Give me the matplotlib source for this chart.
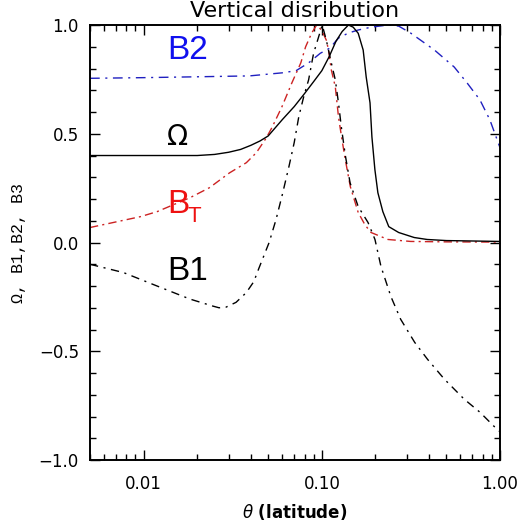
import matplotlib
matplotlib.use("Agg")
import matplotlib.pyplot as plt
from matplotlib.ticker import LogLocator, MultipleLocator, FixedLocator, FixedFormatter, NullFormatter

# --- data -------------------------------------------------------------
omega_theta = [0.005, 0.010, 0.020, 0.025, 0.030, 0.035, 0.040, 0.045, 0.050,
               0.060, 0.070, 0.080, 0.090, 0.100, 0.110, 0.120, 0.130, 0.141,
               0.150, 0.160, 0.1706, 0.1774, 0.1864, 0.191, 0.1985, 0.2063, 0.220,
               0.2375, 0.270, 0.330, 0.390, 0.500, 1.0]
omega_val = [0.40, 0.40, 0.40, 0.405, 0.415, 0.428, 0.447, 0.467, 0.49,
             0.565, 0.625, 0.685, 0.74, 0.79, 0.855, 0.925, 0.97, 1.0,
             0.99, 0.962, 0.885, 0.761, 0.642, 0.486, 0.335, 0.229, 0.142,
             0.073, 0.046, 0.023, 0.014, 0.009, 0.005]

b2_theta = [0.005, 0.010, 0.020, 0.0392, 0.0597, 0.0717, 0.0843, 0.098, 0.111,
            0.124, 0.1408, 0.16, 0.189, 0.235, 0.27, 0.315, 0.4285, 0.553,
            0.653, 0.771, 0.877, 1.0]
b2_val = [0.755, 0.758, 0.762, 0.766, 0.78, 0.79, 0.826, 0.87, 0.894,
          0.94, 0.963, 0.977, 0.99, 1.0, 0.995, 0.963, 0.885, 0.807,
          0.734, 0.656, 0.564, 0.436]

bt_theta = [0.005, 0.0096, 0.0119, 0.0182, 0.0234, 0.0303, 0.0377, 0.0429, 0.0487,
            0.0526, 0.0597, 0.0679, 0.0762, 0.0811, 0.0877, 0.0935, 0.100, 0.106,
            0.109, 0.113, 0.119, 0.124, 0.129, 0.1355, 0.1445, 0.160, 0.175,
            0.189, 0.235, 0.315, 0.50, 1.0]
bt_val = [0.069, 0.119, 0.142, 0.206, 0.252, 0.32, 0.367, 0.413, 0.48,
          0.53, 0.624, 0.734, 0.826, 0.9, 0.963, 1.0, 0.975, 0.93,
          0.885, 0.794, 0.716, 0.578, 0.486, 0.38, 0.257, 0.138, 0.08,
          0.046, 0.014, 0.005, 0.003, 0.002]

b1_theta = [0.005, 0.0077, 0.0119, 0.0182, 0.0244, 0.0265, 0.0290, 0.0330, 0.0377,
            0.0415, 0.0445, 0.0506, 0.0553, 0.0600, 0.0654, 0.0700, 0.0743, 0.0791,
            0.0843, 0.0899, 0.0959, 0.1005, 0.106, 0.113, 0.119, 0.124, 0.1286,
            0.1355, 0.144, 0.16, 0.1817, 0.1987, 0.2147, 0.244, 0.277, 0.332,
            0.392, 0.487, 0.629, 0.771, 0.923, 1.0]
b1_val = [-0.10, -0.138, -0.20, -0.26, -0.292, -0.30, -0.297, -0.275, -0.23,
          -0.18, -0.115, 0.0, 0.105, 0.22, 0.35, 0.46, 0.58, 0.67,
          0.748, 0.87, 0.945, 1.0, 0.93, 0.826, 0.748, 0.642, 0.532,
          0.40, 0.275, 0.165, 0.092, 0.014, -0.11, -0.248, -0.353, -0.459,
          -0.537, -0.628, -0.72, -0.78, -0.844, -0.87]

x_ticks = [0.01, 0.1, 1.0]
x_tick_labels = ["0.01", "0.10", "1.00"]
y_ticks = [-1.0, -0.5, 0.0, 0.5, 1.0]
y_tick_labels = ["\u22121.0", "\u22120.5", "0.0", "0.5", "1.0"]

# --- figure -----------------------------------------------------------
fig = plt.figure(figsize=(5.27, 5.21), dpi=100)
ax = fig.add_axes([0.1708, 0.117, 0.778, 0.835])

lw = 1.0
ax.plot(b2_theta, b2_val, color="#2020c0", lw=lw, dashes=(7, 4, 1.5, 4))
ax.plot(bt_theta, bt_val, color="#cc2222", lw=lw, dashes=(6, 3, 1.5, 3))
ax.plot(b1_theta, b1_val, color="black", lw=lw, dashes=(6, 4, 1.5, 4))
ax.plot(omega_theta, omega_val, color="black", lw=lw, solid_joinstyle="round")

ax.set_xscale("log")
ax.set_xlim(0.005, 1.0)
ax.set_ylim(-1.0, 1.0)

ax.xaxis.set_major_locator(FixedLocator(x_ticks))
ax.xaxis.set_major_formatter(FixedFormatter(x_tick_labels))
ax.xaxis.set_minor_locator(LogLocator(base=10, subs=range(2, 10)))
ax.xaxis.set_minor_formatter(NullFormatter())
ax.yaxis.set_major_locator(FixedLocator(y_ticks))
ax.yaxis.set_major_formatter(FixedFormatter(y_tick_labels))
ax.yaxis.set_minor_locator(MultipleLocator(0.1))

ax.tick_params(which="both", direction="in", top=True, right=True, width=1.0,
               labelsize=12)
ax.tick_params(axis="x", which="major", pad=11)
ax.tick_params(axis="y", which="major", pad=8)
ax.tick_params(which="major", length=7)
ax.tick_params(which="minor", length=4.5)
for s in ax.spines.values():
    s.set_linewidth(1.4)

for lab in ax.get_xticklabels() + ax.get_yticklabels():
    lab.set_family("DejaVu Sans")

ax.set_title("Vertical disribution", fontsize=16, family="DejaVu Sans", pad=6)
ax.set_xlabel(r"$\theta$ (latitude)", fontsize=12, family="DejaVu Sans",
              fontweight="bold", labelpad=6)
ax.set_ylabel("\u03a9, B1,B2, B3", fontsize=12, family="Liberation Mono", labelpad=9)

# curve labels
lab_x = 0.01355
ax.text(lab_x, 0.883, "B2", color="#1010ee", fontsize=24, family="Liberation Sans",
        ha="left", va="center")
ax.text(lab_x, 0.486, "\u03a9", color="black", fontsize=20, family="DejaVu Sans",
        ha="left", va="center")
ax.text(lab_x, 0.138, "B", color="#ee1111", fontsize=24, family="Liberation Sans",
        ha="left", va="baseline")
ax.text(0.0177, 0.0963, "T", color="#ee1111", fontsize=16, family="Liberation Sans",
        ha="left", va="baseline")
ax.text(lab_x, -0.133, "B1", color="black", fontsize=24, family="Liberation Sans",
        ha="left", va="center")

fig.savefig("out.png", dpi=100)
